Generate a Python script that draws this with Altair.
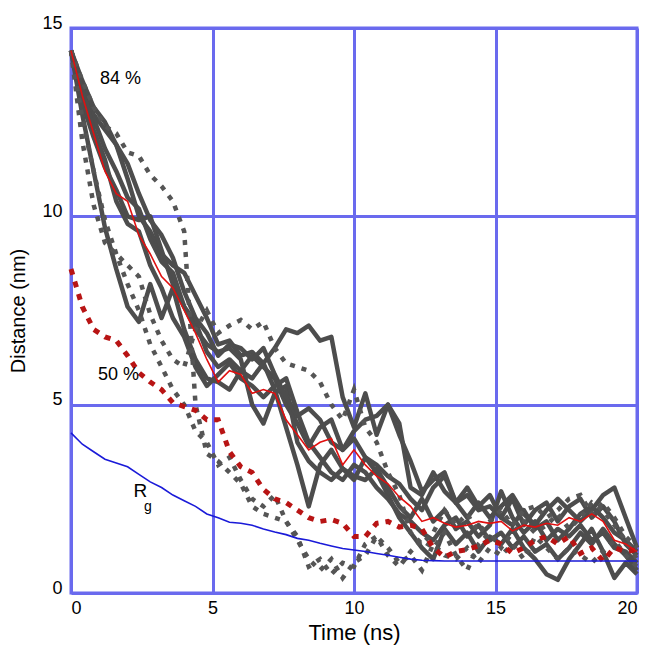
import altair as alt
import pandas as pd

# time grid (ns)
time_ns = [0.0, 0.4, 0.8, 1.2, 1.6, 2.0, 2.4, 2.8, 3.2, 3.6, 4.0, 4.4, 4.8, 5.2, 5.6, 6.0, 6.4, 6.8,
           7.2, 7.6, 8.0, 8.4, 8.8, 9.2, 9.6, 10.0, 10.4, 10.8, 11.2, 11.6, 12.0, 12.4, 12.8, 13.2,
           13.6, 14.0, 14.4, 14.8, 15.2, 15.6, 16.0, 16.4, 16.8, 17.2, 17.6, 18.0, 18.4, 18.8, 19.2,
           19.6, 20.0]

# grey solid trajectories (nm)
grey_s1 = [14.4, 13.5, 12.7, 12.3, 11.9, 11.0, 10.0, 9.6, 9.0, 8.7, 8.5, 7.9, 7.3, 6.6, 6.7, 6.3, 6.4, 6.1,
           6.5, 7.0, 6.9, 7.1, 6.7, 6.8, 5.2, 4.4, 5.3, 4.2, 5.0, 4.5, 2.8, 2.6, 3.2, 2.7, 2.4, 2.6, 2.2,
           2.3, 2.0, 1.8, 2.2, 1.7, 1.9, 1.4, 1.7, 2.1, 2.3, 2.0, 1.6, 1.4, 1.1]
grey_s2 = [14.4, 13.0, 12.1, 11.3, 10.7, 10.0, 9.9, 10.0, 9.1, 8.2, 7.6, 7.2, 6.4, 6.0, 6.2, 5.9, 6.3, 6.0,
           5.7, 5.0, 4.5, 3.9, 4.4, 4.6, 3.8, 4.1, 3.6, 3.4, 3.1, 2.9, 2.5, 2.2, 2.8, 3.1, 2.4, 2.0, 2.4,
           2.0, 2.3, 2.6, 2.1, 1.8, 2.2, 2.5, 2.2, 1.9, 2.2, 2.6, 2.8, 2.0, 1.2]
grey_s3 = [14.4, 12.7, 11.2, 9.7, 8.6, 7.6, 7.2, 8.2, 7.3, 8.1, 7.0, 6.2, 5.7, 5.6, 5.4, 5.9, 5.7, 6.1,
           5.4, 4.4, 3.4, 2.3, 3.4, 3.8, 3.3, 3.0, 3.6, 3.2, 2.6, 2.0, 1.6, 1.2, 0.9, 1.7, 1.3, 1.6, 1.1,
           1.5, 1.3, 1.7, 1.2, 0.9, 0.5, 0.35, 0.9, 1.3, 1.7, 1.1, 0.4, 0.8, 0.5]
grey_s4 = [14.4, 13.3, 12.6, 11.8, 11.2, 10.5, 10.2, 9.4, 8.8, 8.5, 7.6, 7.0, 6.6, 6.4, 6.5, 6.2, 5.0, 4.5,
           5.3, 5.5, 4.0, 3.5, 3.2, 3.0, 3.3, 3.1, 3.0, 3.3, 2.8, 2.3, 2.0, 2.5, 1.9, 2.2, 1.7, 1.9, 1.5,
           1.8, 2.7, 2.0, 1.6, 1.9, 1.4, 1.7, 1.5, 1.8, 1.4, 1.6, 1.2, 1.1, 0.8]
grey_s5 = [14.4, 13.6, 12.9, 12.5, 11.9, 11.4, 10.6, 9.9, 9.5, 8.9, 8.0, 7.3, 6.9, 6.3, 6.6, 6.5, 6.2, 6.5,
           5.8, 5.2, 4.7, 4.9, 4.6, 4.0, 3.8, 4.3, 4.6, 4.7, 5.0, 4.2, 3.5, 2.7, 3.0, 3.2, 2.4, 2.8, 2.3,
           2.6, 2.0, 2.5, 1.8, 2.2, 2.4, 1.9, 2.3, 2.5, 2.0, 2.3, 1.9, 1.3, 1.0]
grey_s6 = [14.4, 13.4, 12.3, 11.5, 10.4, 9.8, 9.6, 8.7, 8.1, 7.3, 6.8, 6.0, 5.5, 5.8, 6.1, 5.7, 5.5, 5.2,
           5.5, 5.7, 4.8, 4.0, 3.6, 3.2, 3.0, 3.4, 3.2, 2.8, 2.5, 2.1, 1.9, 1.6, 1.4, 1.8, 2.0, 1.5, 1.8,
           1.4, 1.6, 1.2, 1.5, 1.1, 1.3, 0.9, 1.2, 1.6, 1.3, 1.7, 1.3, 1.0, 0.6]

# grey dashed trajectories (nm)
grey_d1 = [14.4, 13.6, 12.9, 12.4, 12.2, 11.7, 11.6, 11.1, 10.8, 10.4, 9.6, 5.0, 3.7, 3.5, 3.2, 2.9, 2.3, 2.1,
           2.0, 1.9, 1.5, 0.7, 0.9, 0.5, 0.8, 0.7, 1.3, 1.5, 1.0, 0.7, 1.1, 1.4, 1.2, 1.6, 1.0, 0.6, 1.3,
           1.6, 1.2, 1.6, 1.9, 1.6, 1.8, 2.1, 1.7, 2.0, 2.4, 2.2, 1.8, 1.4, 0.9]
grey_d2 = [14.4, 12.0, 10.3, 9.3, 9.0, 8.7, 8.4, 7.4, 6.7, 6.2, 6.0, 7.0, 7.5, 6.9, 7.1, 7.25, 7.0, 7.2,
           6.5, 6.1, 6.0, 5.9, 5.6, 5.0, 4.6, 5.4, 4.4, 4.0, 3.2, 2.6, 1.6, 1.3, 1.6, 2.2, 1.8, 2.1, 1.6,
           1.9, 2.2, 1.8, 2.2, 2.3, 2.0, 2.2, 2.5, 2.6, 2.1, 2.4, 2.0, 1.5, 1.2]
grey_d3 = [14.4, 12.6, 11.2, 9.9, 9.0, 8.2, 7.5, 6.6, 6.0, 5.4, 5.0, 4.3, 4.0, 3.4, 3.6, 3.0, 2.5, 2.3,
           2.6, 1.9, 1.4, 0.9, 0.6, 0.9, 0.4, 0.8, 1.0, 1.5, 1.2, 0.8, 1.0, 0.6, 1.3, 1.0, 0.9, 1.2, 0.8,
           1.2, 1.0, 1.3, 0.9, 1.5, 1.2, 0.9, 1.2, 1.0, 0.8, 1.1, 1.4, 1.0, 0.7]

# red average (84 %)
red_avg = [14.4, 13.2, 12.2, 11.2, 10.6, 10.4, 9.5, 9.0, 8.4, 8.1, 7.5, 6.9, 6.2, 5.6, 5.9, 5.8, 5.3, 5.4,
           5.3, 4.6, 4.2, 3.8, 4.0, 4.1, 3.4, 3.8, 3.4, 3.1, 2.9, 2.55, 2.3, 1.9, 2.0, 1.85, 1.75, 1.8, 1.9,
           1.85, 1.9, 1.65, 1.8, 1.75, 1.85, 1.8, 2.0, 1.9, 2.1, 1.9, 1.4, 1.3, 1.1]
# red dashed (50 %)
red_50 = [8.6, 7.6, 7.0, 6.8, 6.7, 6.3, 5.85, 5.6, 5.4, 5.05, 4.95, 4.85, 4.6, 4.6, 3.75, 3.35, 3.2, 2.75,
          2.5, 2.4, 2.2, 2.0, 1.9, 1.95, 1.85, 1.5, 1.5, 1.85, 1.9, 1.75, 1.8, 1.7, 1.2, 0.95, 1.1, 1.15, 1.25,
          1.4, 1.3, 1.05, 1.2, 1.4, 1.5, 1.3, 1.5, 1.05, 1.2, 0.85, 1.2, 1.1, 1.15]
# radius of gyration
rg = [4.25, 3.95, 3.75, 3.55, 3.45, 3.35, 3.15, 2.95, 2.8, 2.6, 2.45, 2.3, 2.1, 2.0, 1.88, 1.85, 1.8, 1.7,
      1.62, 1.55, 1.45, 1.4, 1.32, 1.25, 1.18, 1.14, 1.1, 1.05, 1.0, 0.95, 0.9, 0.87, 0.86, 0.85, 0.85, 0.85,
      0.85, 0.85, 0.85, 0.85, 0.85, 0.85, 0.85, 0.85, 0.85, 0.85, 0.85, 0.85, 0.85, 0.85, 0.85]

# annotations
label_text = ["84 %", "50 %"]
label_t = [1.75, 1.68]
label_d = [13.65, 5.8]
rg_text = ["R"]
rg_t = [2.45]
rg_d = [2.72]
sub_text = ["g"]
sub_t = [2.72]
sub_d = [2.28]

GRID = "#6a6aee"
FONT = "Liberation Sans"


def long(series_dict):
    rows = []
    for name, vals in series_dict.items():
        for t, d in zip(time_ns, vals):
            rows.append({"t": t, "d": d, "s": name})
    return pd.DataFrame(rows)


solid_df = long({"s1": grey_s1, "s2": grey_s2, "s3": grey_s3, "s4": grey_s4, "s5": grey_s5, "s6": grey_s6})
dash_df = long({"d1": grey_d1, "d2": grey_d2, "d3": grey_d3})
red_df = long({"avg": red_avg})
red50_df = long({"r50": red_50})
rg_df = long({"rg": rg})
lab_df = pd.DataFrame({"t": label_t, "d": label_d, "txt": label_text})
rgl_df = pd.DataFrame({"t": rg_t, "d": rg_d, "txt": rg_text})
sub_df = pd.DataFrame({"t": sub_t, "d": sub_d, "txt": sub_text})

xs = alt.Scale(domain=[0, 20], nice=False, zero=False)
ys = alt.Scale(domain=[0, 15], nice=False, zero=False)

x_enc = alt.X("t:Q", scale=xs, title="Time (ns)",
              axis=alt.Axis(values=[0, 5, 10, 15, 20], format="d", grid=True, ticks=False, domain=False,
                            labelPadding=6, titlePadding=5))
y_enc = alt.Y("d:Q", scale=ys, title="Distance (nm)",
              axis=alt.Axis(values=[0, 5, 10, 15], format="d", grid=True, ticks=False, domain=False,
                            labelPadding=9, titlePadding=13, titleFontSize=20, labelOffset=-5))

base_grid = alt.Chart(rg_df).mark_line(opacity=0).encode(x=x_enc, y=y_enc)

solid = alt.Chart(solid_df).mark_line(color="#4d4d4d", strokeWidth=4.5, strokeJoin="round").encode(
    x="t:Q", y="d:Q", detail="s:N")
dashed = alt.Chart(dash_df).mark_line(color="#555555", strokeWidth=4.5, strokeDash=[5, 7]).encode(
    x="t:Q", y="d:Q", detail="s:N")
red50 = alt.Chart(red50_df).mark_line(color="#b81414", strokeWidth=5, strokeDash=[6, 7]).encode(
    x="t:Q", y="d:Q")
red = alt.Chart(red_df).mark_line(color="#e01010", strokeWidth=1.6).encode(x="t:Q", y="d:Q")
blue = alt.Chart(rg_df).mark_line(color="#1a1ad8", strokeWidth=1.6).encode(x="t:Q", y="d:Q")

labels = alt.Chart(lab_df).mark_text(font=FONT, fontSize=18, color="black").encode(
    x="t:Q", y="d:Q", text="txt:N")
rgl = alt.Chart(rgl_df).mark_text(font=FONT, fontSize=19, color="black").encode(
    x="t:Q", y="d:Q", text="txt:N")
sub = alt.Chart(sub_df).mark_text(font=FONT, fontSize=14, color="black").encode(
    x="t:Q", y="d:Q", text="txt:N")

chart = alt.layer(base_grid, solid, dashed, red50, red, blue, labels, rgl, sub).properties(
    width=566, height=565,
    autosize=alt.AutoSizeParams(type="none"),
    padding={"left": 63, "top": 20, "right": 4, "bottom": 58},
    background="white",
).configure_view(
    stroke=GRID, strokeWidth=3
).configure_axis(
    gridColor=GRID, gridWidth=3, gridOpacity=1,
    labelFont=FONT, labelFontSize=18, labelColor="black",
    titleFont=FONT, titleFontSize=22, titleFontWeight="normal", titleColor="black",
)

chart.save("out.html", embed_options={"renderer": "svg", "actions": False})
